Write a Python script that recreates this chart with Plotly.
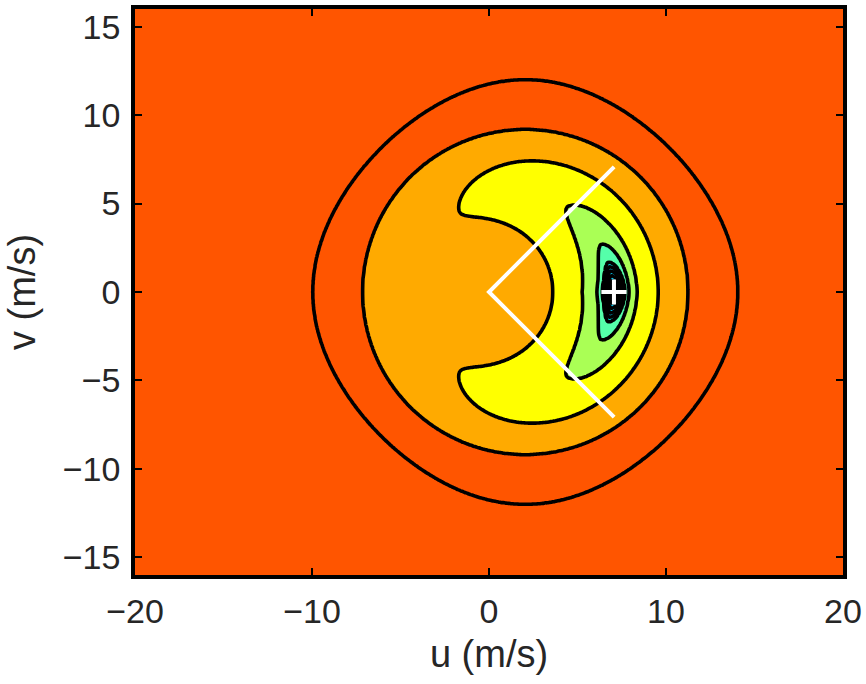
import numpy as np
import plotly.graph_objects as go

# ---------------------------------------------------------------------------
# Axes
U_RANGE = [-20.0, 20.0]
V_RANGE = [-16.0, 16.0]
GRID_STEP = 0.08
U_TICKS = [-20, -10, 0, 10, 20]
V_TICKS = [-15, -10, -5, 0, 5, 10, 15]

# Core population: flat-topped, centred on CORE_CENTER (m/s)
CORE_CENTER = [2.05, 0.0]
CORE_SCALE = 8.5
CORE_POWER = 6.0
CORE_SQUARENESS = 0.05          # flattening along the diagonals of the outer contour
CORE_SHAPE_SPAN = [9.5, 12.0]   # radii over which the flattening sets in

# Depleted region around the origin and towards large angles
HOLE_CENTER = [-0.4, 0.0]
HOLE_RADIUS = 4.12
HOLE_SOFTNESS = 0.2
HOLE_ANGLE = 101.0              # deg
HOLE_ANGLE_SOFTNESS = 20.0      # deg
HOLE_FLOOR = 0.4

# Ring-beam ridge
RING_RADIUS = 7.0
RING_BEND = 0.6
RING_AMPLITUDE = 1.0
RING_ANGULAR = [50.3, 1.34]     # width (deg), exponent
RING_INNER = [1.56, 1.6]        # width, exponent (inside the ridge)
RING_OUTER = [1.5, 2.5]         # width, exponent (outside the ridge)

# Contour levels and the fill colour of each band (lowest band first)
LEVELS = [0.00036, 0.200, 0.640, 1.30, 1.65, 1.79, 1.82, 1.85, 1.88, 1.91, 1.935, 1.955]
BAND_COLORS = ["#FF5500", "#FF5500", "#FFAA00", "#FFFF00", "#AAFF55", "#55FFAA",
               "#00FFFF", "#00D4FF", "#00D4FF", "#00D4FF", "#00D4FF", "#00D4FF", "#00D4FF"]

# Guide lines from the origin and the location of the maximum
CONE_U = [7.07, 0.0, 7.07]
CONE_V = [7.07, 0.0, -7.07]
PEAK_U = [7.06]
PEAK_V = [0.0]

FONT = "Liberation Sans, Arial, sans-serif"
TEXT_COLOR = "#262626"


def sigmoid(x):
    return 1.0 / (1.0 + np.exp(-np.clip(x, -60, 60)))


u = np.arange(U_RANGE[0], U_RANGE[1] + GRID_STEP / 2, GRID_STEP)
v = np.arange(V_RANGE[0], V_RANGE[1] + GRID_STEP / 2, GRID_STEP)
U, V = np.meshgrid(u, v)

# core
du = U - CORE_CENTER[0]
dv = V - CORE_CENTER[1]
rho = np.hypot(du, dv)
phi = np.arctan2(dv, du)
ramp = np.clip((rho - CORE_SHAPE_SPAN[0]) / (CORE_SHAPE_SPAN[1] - CORE_SHAPE_SPAN[0]), 0, 1)
d = rho / (1.0 - CORE_SQUARENESS * ramp * (1.0 - np.cos(4 * phi)) / 2.0)
core = np.exp(-(d / CORE_SCALE) ** CORE_POWER)

# depletion
theta = np.degrees(np.abs(np.arctan2(V, U)))
r_hole = np.hypot(U - HOLE_CENTER[0], V - HOLE_CENTER[1])
h_r = sigmoid((HOLE_RADIUS - r_hole) / HOLE_SOFTNESS)
h_t = sigmoid((theta - HOLE_ANGLE) / HOLE_ANGLE_SOFTNESS)
h = 1 - (1 - h_r) * (1 - h_t)
base = core * (1 - h) + np.minimum(core, HOLE_FLOOR) * h

# ring-beam
r = np.hypot(U, V)
ridge = RING_RADIUS - RING_BEND * np.radians(theta) ** 2
delta = r - ridge
radial = np.where(delta < 0,
                  np.exp(-(np.abs(delta) / RING_INNER[0]) ** RING_INNER[1]),
                  np.exp(-(np.abs(delta) / RING_OUTER[0]) ** RING_OUTER[1]))
angular = np.exp(-(theta / RING_ANGULAR[0]) ** RING_ANGULAR[1])
f = base + RING_AMPLITUDE * angular * radial

# map the (unevenly spaced) levels onto integers so Plotly can contour them
lev_ext = np.concatenate([[-LEVELS[1]], LEVELS, [max(f.max(), LEVELS[-1]) + 1.0]])
z = np.interp(f, lev_ext, np.arange(len(lev_ext)))
z = np.round(z, 4)

n_bands = len(BAND_COLORS)
zmax = float(n_bands)
colorscale = []
for j, c in enumerate(BAND_COLORS):
    lo = 0.0 if j == 0 else (j - 0.25) / zmax
    hi = 1.0 if j == n_bands - 1 else (j + 0.75) / zmax
    colorscale += [[lo, c], [hi, c]]

fig = go.Figure()
fig.add_trace(go.Contour(
    x=u, y=v, z=z,
    zmin=0, zmax=zmax, zauto=False,
    colorscale=colorscale, showscale=False,
    autocontour=False,
    contours=dict(start=1, end=len(LEVELS), size=1, coloring="fill"),
    line=dict(color="black", width=3.6, smoothing=0.8),
    hoverinfo="skip",
))
fig.add_trace(go.Scatter(
    x=CONE_U, y=CONE_V, mode="lines",
    line=dict(color="white", width=4), hoverinfo="skip",
))
fig.add_trace(go.Scatter(
    x=PEAK_U, y=PEAK_V, mode="markers",
    marker=dict(symbol="cross-thin", size=18, line=dict(color="white", width=4)),
    hoverinfo="skip",
))

axis_common = dict(
    ticks="inside", ticklen=7, tickwidth=2, tickcolor="black",
    showline=True, linewidth=3.5, linecolor="black", mirror="allticks",
    showgrid=False, zeroline=False, automargin=False,
    tickfont=dict(family=FONT, size=34, color=TEXT_COLOR),
)
fig.update_xaxes(range=U_RANGE, tickvals=U_TICKS, ticklabelstandoff=3,
                 title=dict(text="u (m/s)", standoff=13,
                            font=dict(family=FONT, size=38, color=TEXT_COLOR)),
                 **axis_common)
fig.update_yaxes(range=V_RANGE, tickvals=V_TICKS, ticklabelstandoff=4,
                 title=dict(text="v (m/s)", standoff=16,
                            font=dict(family=FONT, size=38, color=TEXT_COLOR)),
                 **axis_common)
fig.update_layout(
    template="none",
    width=866, height=684,
    margin=dict(l=135, r=23, t=9, b=109),
    paper_bgcolor="white", plot_bgcolor="#FF5500",
    showlegend=False,
)
fig.write_html("out.html")
